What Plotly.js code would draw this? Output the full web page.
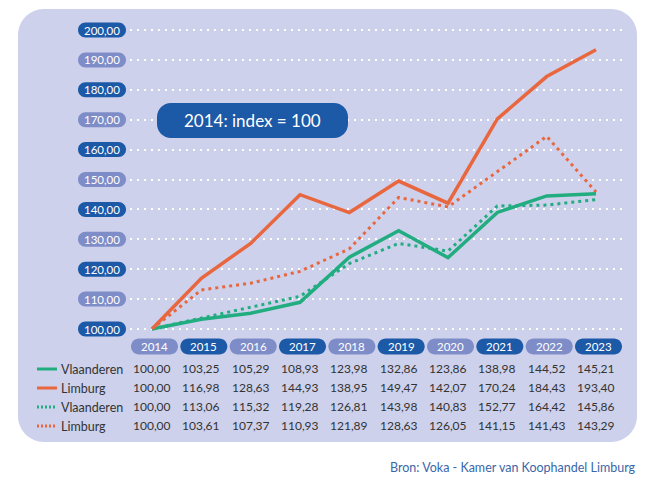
<!DOCTYPE html>
<html>
<head>
<meta charset="utf-8">
<script src="https://cdn.plot.ly/plotly-3.0.1.min.js"></script>
<style>html,body{margin:0;padding:0;background:#fff;}#chart{width:667px;height:493px;}</style>
</head>
<body>
<div id="chart"></div>
<script>
// ---- data ----
var years = [2014, 2015, 2016, 2017, 2018, 2019, 2020, 2021, 2022, 2023];
var vlaanderenSolid = [100.00, 103.25, 105.29, 108.93, 123.98, 132.86, 123.86, 138.98, 144.52, 145.21];
var limburgSolid    = [100.00, 116.98, 128.63, 144.93, 138.95, 149.47, 142.07, 170.24, 184.43, 193.40];
var row3Values      = [100.00, 113.06, 115.32, 119.28, 126.81, 143.98, 140.83, 152.77, 164.42, 145.86];
var row4Values      = [100.00, 103.61, 107.37, 110.93, 121.89, 128.63, 126.05, 141.15, 141.43, 143.29];
var rowLabels = ['Vlaanderen', 'Limburg', 'Vlaanderen', 'Limburg'];
var yTicks = [100, 110, 120, 130, 140, 150, 160, 170, 180, 190, 200];
var boxText = '2014: index = 100';
var sourceText = 'Bron: Voka - Kamer van Koophandel Limburg';

// ---- styling ----
var GREEN = '#22ad80', ORANGE = '#e8673f';
var DARK = '#1c59a7', LIGHT = '#7e8dc8', PANEL = '#cdd1ec';
var FONT = 'Lato, "Open Sans", sans-serif';
var W = 667, H = 493;
var M = {l: 130, r: 42, t: 20, b: 150};
var PW = W - M.l - M.r, PH = H - M.t - M.b;
var XR = [2014 - 22 / 49.333, 2023 + 29 / 49.333];
var YR = [100 - 14 / 2.99, 200 + 10 / 2.99];

function pxX(px) { return (px - M.l) / PW; }
function pxY(py) { return (H - M.b - py) / PH; }
function dataX(v) { return (v - XR[0]) / (XR[1] - XR[0]); }
function dataY(v) { return (v - YR[0]) / (YR[1] - YR[0]); }

function roundRect(w, h, r, dx) {
  dx = dx || 0;
  var k = 0.5523 * r, a = w / 2, b = h / 2;
  return 'M' + (-a + r + dx) + ',' + (-b) +
    ' L' + (a - r + dx) + ',' + (-b) +
    ' C' + (a - r + k + dx) + ',' + (-b) + ' ' + (a + dx) + ',' + (-b + r - k) + ' ' + (a + dx) + ',' + (-b + r) +
    ' L' + (a + dx) + ',' + (b - r) +
    ' C' + (a + dx) + ',' + (b - r + k) + ' ' + (a - r + k + dx) + ',' + b + ' ' + (a - r + dx) + ',' + b +
    ' L' + (-a + r + dx) + ',' + b +
    ' C' + (-a + r - k + dx) + ',' + b + ' ' + (-a + dx) + ',' + (b - r + k) + ' ' + (-a + dx) + ',' + (b - r) +
    ' L' + (-a + dx) + ',' + (-b + r) +
    ' C' + (-a + dx) + ',' + (-b + r - k) + ' ' + (-a + r - k + dx) + ',' + (-b) + ' ' + (-a + r + dx) + ',' + (-b) + ' Z';
}
function pill(xa, ya, w, h, r, color, dx, layer) {
  return {type: 'path', xref: 'paper', yref: 'paper', xsizemode: 'pixel', ysizemode: 'pixel',
    xanchor: xa, yanchor: ya, path: roundRect(w, h, r, dx), fillcolor: color,
    line: {width: 0}, layer: layer || 'below'};
}

var shapes = [];
var annotations = [];

// panel
shapes.push(pill(pxX(327.5), pxY(225.5), 619, 433, 26, PANEL, 0, 'below'));

// y tick pills
yTicks.forEach(function (v, i) {
  shapes.push(pill(pxX(102), dataY(v), 48, 15, 7.5, i % 2 === 0 ? DARK : LIGHT, 0, 'above'));
  annotations.push({xref: 'paper', yref: 'y', x: pxX(102), y: v, text: v.toFixed(2).replace('.', ','),
    showarrow: false, font: {family: FONT, size: 11.5, color: '#ffffff'}, xanchor: 'center', yanchor: 'middle'});
});

// x tick pills
var xPillY = pxY(346.5);
years.forEach(function (yr, i) {
  shapes.push(pill(dataX(yr), xPillY, 47, 16, 8, i % 2 === 0 ? LIGHT : DARK, 2.5, 'above'));
  annotations.push({xref: 'x', yref: 'paper', x: yr, y: xPillY, xshift: 2.5, text: String(yr), showarrow: false,
    font: {family: FONT, size: 11.5, color: '#ffffff'}, xanchor: 'center', yanchor: 'middle'});
});

// table
var rows = [vlaanderenSolid, limburgSolid, row3Values, row4Values];
var rowY = [368, 387, 406, 425];
var rowColor = [GREEN, ORANGE, GREEN, ORANGE];
var rowDash = ['solid', 'solid', '2px,2px', '2px,2px'];
rows.forEach(function (vals, r) {
  vals.forEach(function (v, i) {
    annotations.push({xref: 'x', yref: 'paper', x: years[i], y: pxY(rowY[r]), text: v.toFixed(2).replace('.', ','),
      showarrow: false, font: {family: FONT, size: 12, color: '#333333'}, xanchor: 'center', yanchor: 'middle'});
  });
  annotations.push({xref: 'paper', yref: 'paper', x: pxX(59), y: pxY(rowY[r] + 1), text: rowLabels[r],
    showarrow: false, font: {family: FONT, size: 12.5, color: '#333333'}, xanchor: 'left', yanchor: 'middle'});
  shapes.push({type: 'line', xref: 'paper', yref: 'paper', x0: pxX(37), x1: pxX(57),
    y0: pxY(rowY[r] + 1), y1: pxY(rowY[r] + 1), line: {color: rowColor[r], width: 3, dash: rowDash[r]}, layer: 'above'});
});

// index box
shapes.push(pill(pxX(252.5), pxY(120.5), 191, 35, 14, DARK, 0, 'above'));
annotations.push({xref: 'paper', yref: 'paper', x: pxX(252.5), y: pxY(120.5), text: boxText, showarrow: false,
  font: {family: FONT, size: 17, color: '#ffffff'}, xanchor: 'center', yanchor: 'middle'});

// source
annotations.push({xref: 'paper', yref: 'paper', x: pxX(638), y: pxY(467), text: sourceText, showarrow: false,
  font: {family: FONT, size: 12.5, color: '#3a67a8'}, xanchor: 'right', yanchor: 'middle'});

var traces = [
  {x: years, y: row4Values, mode: 'lines', line: {color: GREEN, width: 3, dash: '3px,4px'}},
  {x: years, y: row3Values, mode: 'lines', line: {color: ORANGE, width: 3, dash: '3px,4px'}},
  {x: years, y: vlaanderenSolid, mode: 'lines', line: {color: GREEN, width: 3.5}},
  {x: years, y: limburgSolid, mode: 'lines', line: {color: ORANGE, width: 3.5}}
];

var layout = {
  width: W, height: H, margin: M,
  paper_bgcolor: '#ffffff', plot_bgcolor: 'rgba(0,0,0,0)',
  showlegend: false, hovermode: false,
  font: {family: FONT},
  xaxis: {range: XR, showgrid: false, zeroline: false, showline: false, showticklabels: false, ticks: '', fixedrange: true},
  yaxis: {range: YR, tickmode: 'array', tickvals: yTicks, showticklabels: false, ticks: '',
    showgrid: true, gridcolor: '#ffffff', gridwidth: 2, griddash: '2px,5px', zeroline: false, showline: false, fixedrange: true},
  shapes: shapes,
  annotations: annotations
};

Plotly.newPlot('chart', traces, layout, {displayModeBar: false, staticPlot: true});
</script>
</body>
</html>
